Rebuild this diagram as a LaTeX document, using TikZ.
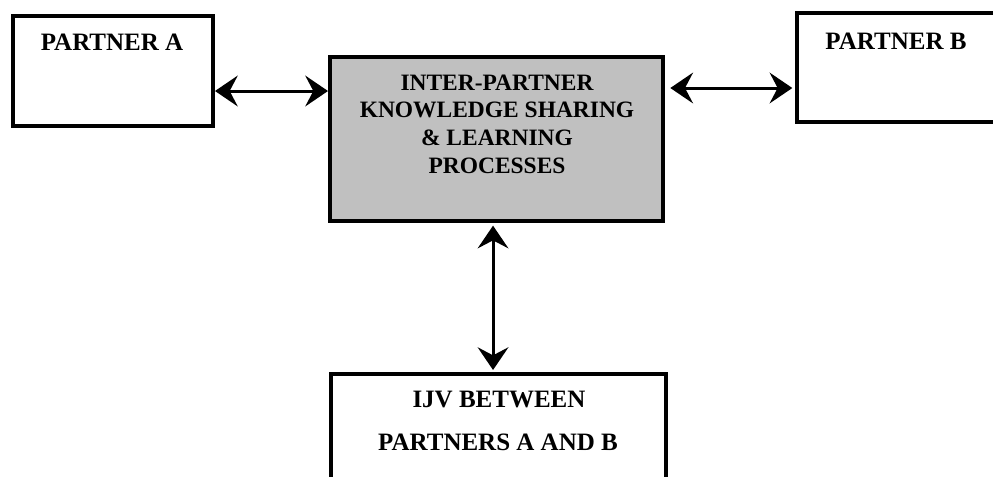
\documentclass[tikz,border=0pt]{standalone}
\usepackage{fontspec}
\setmainfont{Liberation Serif}
\usetikzlibrary{arrows.meta}
\definecolor{boxgray}{RGB}{192,192,192}
\tikzset{
  box/.style={draw=black, line width=3pt, inner sep=0pt},
  lbl/.style={font=\fontsize{18.75}{32}\selectfont\bfseries, inner sep=0pt, align=center},
  clbl/.style={font=\fontsize{17.6}{20.8}\selectfont\bfseries, inner sep=0pt, align=center},
  biarrow/.style={line width=2.25pt, {Stealth[length=17pt,width=23pt,inset=6pt]}-{Stealth[length=17pt,width=23pt,inset=6pt]}}
}
\begin{document}
\begin{tikzpicture}[x=0.75pt,y=-0.75pt]
\useasboundingbox (0,0) rectangle (993,476);
\clip (0,0) rectangle (993,476);
\node[box, minimum width=150pt, minimum height=82.5pt] (A) at (113,71) {};
\node[lbl, anchor=base] (At) at (112,50) {PARTNER A};
\node[box, fill=boxgray, minimum width=249.75pt, minimum height=123pt] (C) at (496.5,139) {};
\node[clbl, anchor=base] (Ct1) at (497,90) {INTER-PARTNER};
\node[clbl, anchor=base] (Ct2) at (497,117) {KNOWLEDGE SHARING};
\node[clbl, anchor=base] (Ct3) at (497,145) {\& LEARNING};
\node[clbl, anchor=base] (Ct4) at (497,173) {PROCESSES};
\node[box, minimum width=150pt, minimum height=81.75pt] (B) at (897,67.5) {};
\node[lbl, anchor=base] (Bt) at (896,49) {PARTNER B};
\node[box, minimum width=251.25pt, minimum height=120pt] (J) at (498.5,454) {};
\node[lbl, anchor=base] (Jt1) at (499,407) {IJV BETWEEN};
\node[lbl, anchor=base] (Jt2) at (498,450) {PARTNERS A AND B};
\coordinate (a1) at ([yshift=-15pt]A.east);
\draw[biarrow] (a1) -- (a1 -| C.west);
\coordinate (c1) at ([yshift=38.25pt, xshift=4pt]C.east);
\draw[biarrow] (c1) -- ([xshift=-2pt]c1 -| B.west);
\coordinate (v1) at ([xshift=-2.6pt, yshift=-2pt]C.south);
\draw[biarrow] (v1) -- ([yshift=1.5pt]v1 |- J.north);
\end{tikzpicture}
\end{document}
